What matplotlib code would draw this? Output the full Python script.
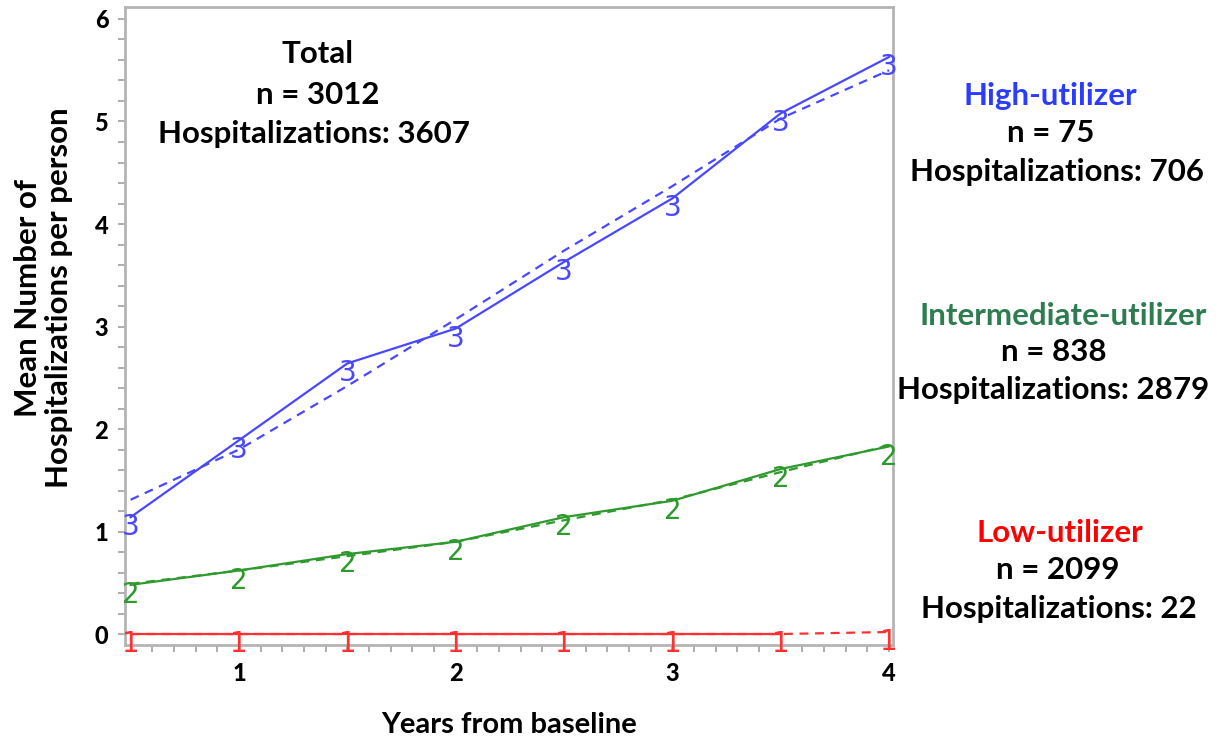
import matplotlib.pyplot as plt
from matplotlib.ticker import MultipleLocator

years = [0.5, 1, 1.5, 2, 2.5, 3, 3.5, 4]

# observed means (solid) and fitted trajectories (dashed)
high_obs = [1.14, 1.89, 2.64, 2.98, 3.63, 4.25, 5.08, 5.63]
high_fit = [1.31, 1.80, 2.42, 3.07, 3.74, 4.37, 5.03, 5.50]
mid_obs = [0.48, 0.62, 0.78, 0.90, 1.14, 1.30, 1.61, 1.83]
mid_fit = [0.49, 0.62, 0.76, 0.90, 1.11, 1.31, 1.58, 1.84]
low_obs = [0, 0, 0, 0, 0, 0, 0, 0.02]
low_fit = [0, 0, 0, 0, 0, 0, 0, 0.02]

x_ticks = [1, 2, 3, 4]
y_ticks = [0, 1, 2, 3, 4, 5, 6]

MARK_FONT = ["Liberation Sans Narrow", "DejaVu Sans"]

plt.rcParams["font.family"] = "Lato"
plt.rcParams["font.weight"] = "bold"

fig = plt.figure(figsize=(12.25, 7.42), dpi=100)
ax = fig.add_axes([125 / 1225, 1 - 645 / 742, (893 - 125) / 1225, (645 - 7) / 742])

series = [
    (high_obs, high_fit, "#4848ff", "3", len(years)),
    (mid_obs, mid_fit, "#2e9a2e", "2", len(years)),
    (low_obs, low_fit, "#ff3030", "1", len(years) - 1),
]
for obs, fit, col, sym, n_solid in series:
    ax.plot(years, fit, color=col, lw=1.6, ls=(0, (4, 3)))
    ax.plot(years[:n_solid], obs[:n_solid], color=col, lw=1.6)
    for xv, yv in zip(years, obs):
        ax.annotate(sym, (xv, yv), xytext=(0, -13), textcoords="offset points",
                    ha="center", va="baseline", fontsize=20, color=col,
                    family=MARK_FONT, fontweight="normal", annotation_clip=False)

ax.set_xlim(0.474, 4.018)
ax.set_ylim(-0.107, 6.117)
ax.set_xticks(x_ticks, [str(t) for t in x_ticks])
ax.set_yticks(y_ticks, [str(t) for t in y_ticks])
ax.xaxis.set_minor_locator(MultipleLocator(0.1))
ax.yaxis.set_minor_locator(MultipleLocator(0.2))
ax.tick_params(which="both", direction="out", color="#a0a0a0", length=5, width=1.2)
ax.tick_params(axis="both", labelsize=17, pad=7)
for lab in ax.get_xticklabels() + ax.get_yticklabels():
    lab.set_fontweight("black")
for sp in ax.spines.values():
    sp.set_color("#b4b4b4")
    sp.set_linewidth(2)

ax.set_xlabel("Years from baseline", fontsize=21, fontweight="bold", labelpad=20)
ax.set_ylabel("Mean Number of\nHospitalizations per person", fontsize=22.5,
              fontweight="bold", linespacing=1.15, va="center")
ax.yaxis.set_label_coords(-0.106, 0.544)


def ftext(px, py, s, color="black"):
    fig.text(px / 1225, 1 - py / 742, s, ha="center", va="center", fontsize=22.5,
             fontweight="bold", color=color)


ftext(318, 54, "Total")
ftext(318, 95, "n = 3012")
ftext(314, 134, "Hospitalizations: 3607")

ftext(1050, 96, "High-utilizer", "#2a3cff")
ftext(1051, 133, "n = 75")
ftext(1057, 172, "Hospitalizations: 706")

ftext(1063, 316, "Intermediate-utilizer", "#2e7d50")
ftext(1054, 352, "n = 838")
ftext(1053, 390, "Hospitalizations: 2879")

ftext(1060, 533, "Low-utilizer", "#ff0000")
ftext(1058, 570, "n = 2099")
ftext(1059, 609, "Hospitalizations: 22")

fig.savefig("out.png", dpi=100)
